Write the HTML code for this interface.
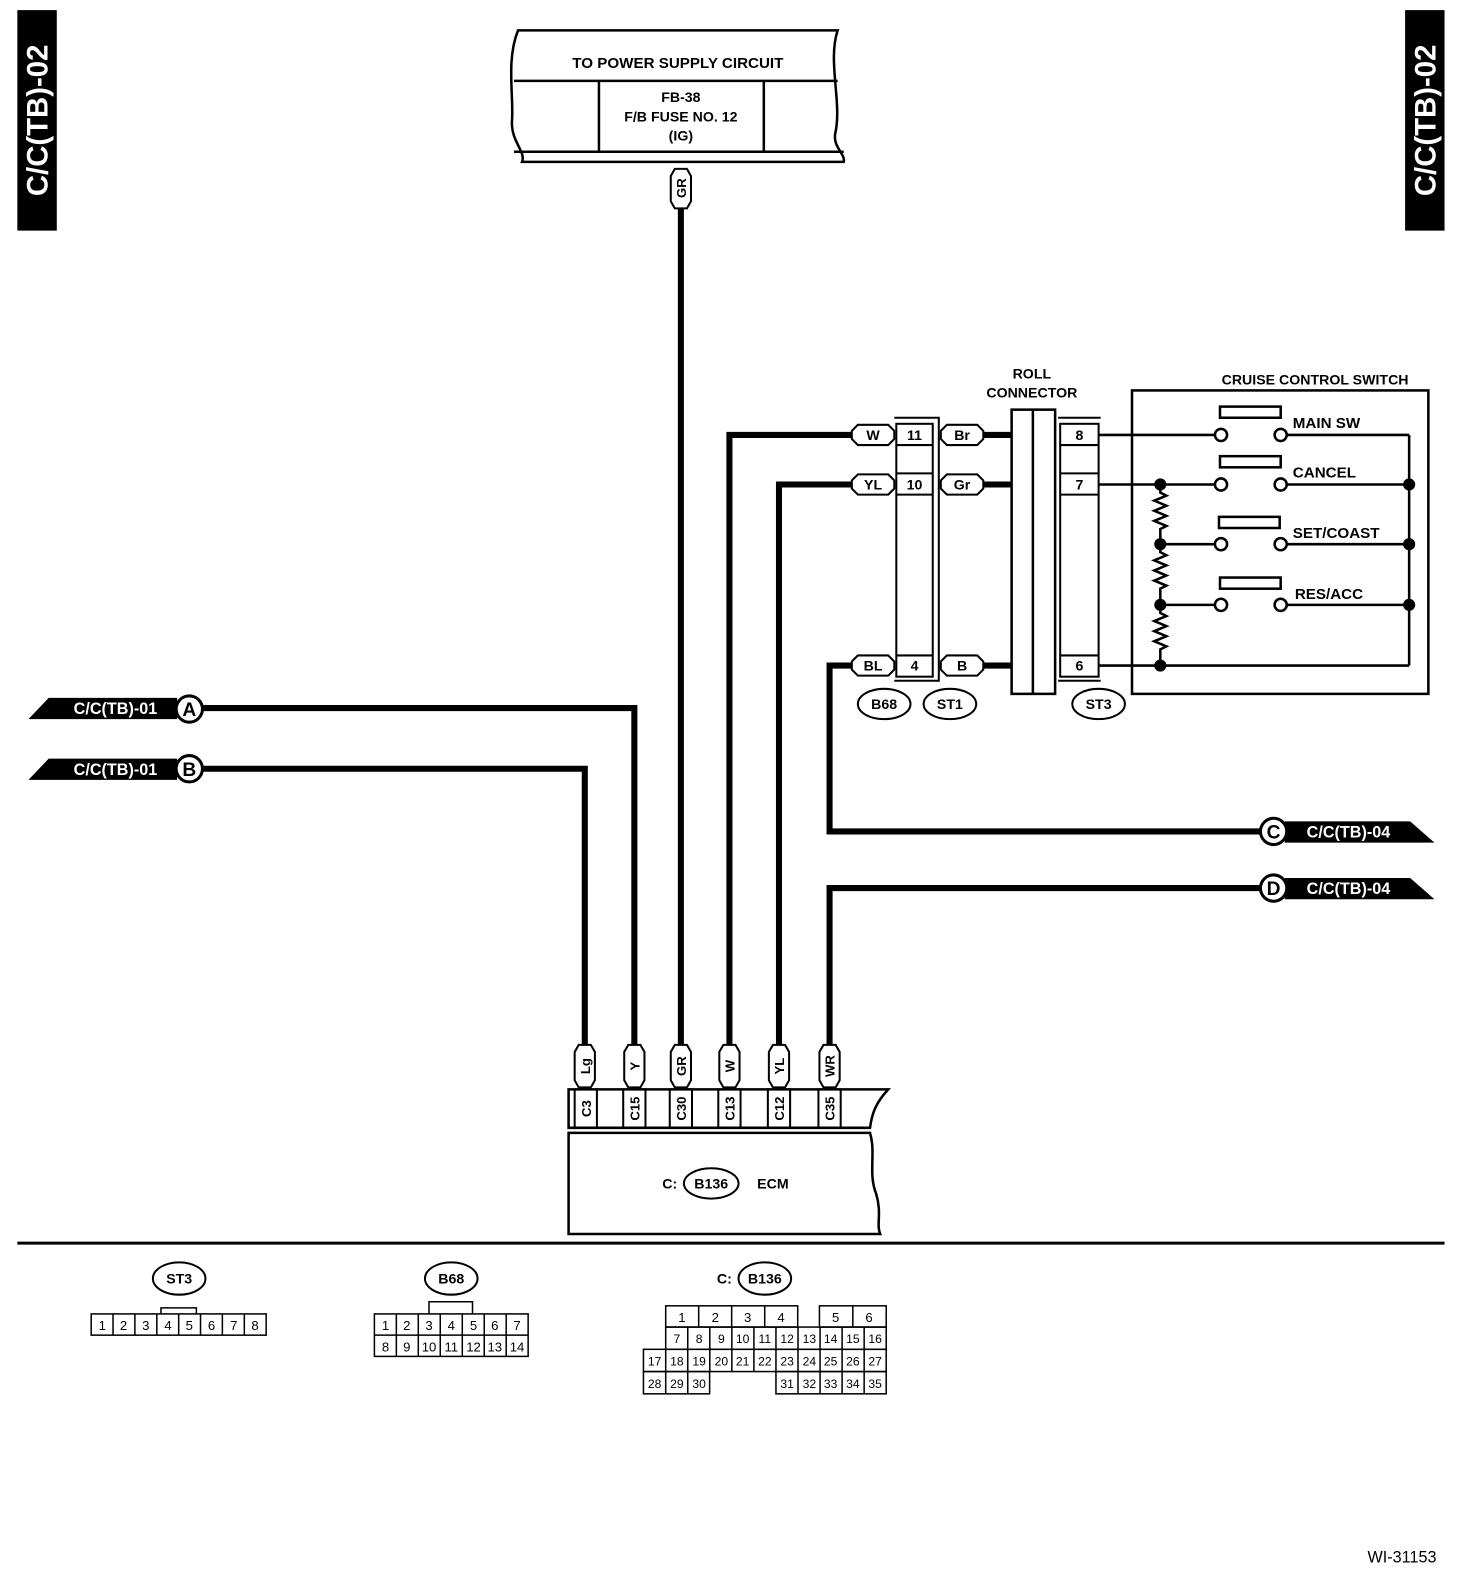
<!DOCTYPE html>
<html><head><meta charset="utf-8"><style>
html,body{margin:0;padding:0;background:#fff;}
svg{display:block;}
text{font-family:"Liberation Sans",sans-serif;font-weight:bold;fill:#000;}
</style></head><body>
<svg width="1472" height="1586" viewBox="0 0 1455 1568" xmlns="http://www.w3.org/2000/svg">
<rect width="1455" height="1568" fill="#fff"/>
<rect x="17" y="10" width="39" height="218" fill="#000"/>
<text transform="translate(47,119) rotate(-90)" text-anchor="middle" font-size="29" style="fill:#fff">C/C(TB)-02</text>
<rect x="1389" y="10" width="39" height="218" fill="#000"/>
<text transform="translate(1419,119) rotate(-90)" text-anchor="middle" font-size="29" style="fill:#fff">C/C(TB)-02</text>

<g fill="none" stroke="#000" stroke-width="2.5">
<path d="M512,30 H828 C818,60 832,100 826,130 C822,145 836,152 834,160 H516 C520,150 505,140 506,120 C508,95 500,60 512,30 Z"/>
<line x1="508" y1="80" x2="828" y2="80"/>
<line x1="508" y1="150" x2="834" y2="150"/>
<line x1="592" y1="80" x2="592" y2="150"/>
<line x1="755" y1="80" x2="755" y2="150"/>
</g>
<text x="670" y="67" text-anchor="middle" font-size="15">TO POWER SUPPLY CIRCUIT</text>
<text x="673" y="101" text-anchor="middle" font-size="14">FB-38</text>
<text x="673" y="120" text-anchor="middle" font-size="14">F/B FUSE NO. 12</text>
<text x="673" y="139" text-anchor="middle" font-size="14">(IG)</text>

<g fill="none" stroke="#000" stroke-width="6">
<line x1="673" y1="205" x2="673" y2="1035"/>
<polyline points="200,700 627,700 627,1035"/>
<polyline points="200,760 578,760 578,1035"/>
<polyline points="842,430 721,430 721,1035"/>
<polyline points="842,479 770,479 770,1035"/>
<polyline points="842,658 820,658 820,822 1250,822"/>
<polyline points="1250,878 820,878 820,1035"/>
<line x1="972" y1="430" x2="1000" y2="430"/>
<line x1="972" y1="479" x2="1000" y2="479"/>
<line x1="972" y1="658" x2="1000" y2="658"/>
</g>

<g fill="#fff" stroke="#000" stroke-width="2">
<path d="M663,174 L667,167 H679 L683,174 V199 L679,206 H667 L663,199 Z"/>
<path d="M568,1040 L572,1033 H584 L588,1040 V1068 L584,1075 H572 L568,1068 Z"/>
<path d="M617,1040 L621,1033 H633 L637,1040 V1068 L633,1075 H621 L617,1068 Z"/>
<path d="M663,1040 L667,1033 H679 L683,1040 V1068 L679,1075 H667 L663,1068 Z"/>
<path d="M711,1040 L715,1033 H727 L731,1040 V1068 L727,1075 H715 L711,1068 Z"/>
<path d="M760,1040 L764,1033 H776 L780,1040 V1068 L776,1075 H764 L760,1068 Z"/>
<path d="M810,1040 L814,1033 H826 L830,1040 V1068 L826,1075 H814 L810,1068 Z"/>
</g>
<g font-size="13">
<text transform="translate(678,186) rotate(-90)" text-anchor="middle">GR</text>
<text transform="translate(583,1054) rotate(-90)" text-anchor="middle">Lg</text>
<text transform="translate(632,1054) rotate(-90)" text-anchor="middle">Y</text>
<text transform="translate(678,1054) rotate(-90)" text-anchor="middle">GR</text>
<text transform="translate(726,1054) rotate(-90)" text-anchor="middle">W</text>
<text transform="translate(775,1054) rotate(-90)" text-anchor="middle">YL</text>
<text transform="translate(825,1054) rotate(-90)" text-anchor="middle">WR</text>
</g>

<g fill="none" stroke="#000" stroke-width="2.5">
<path d="M562,1077 H878 C866,1090 862,1100 860,1115 H562 Z"/>
<path d="M562,1120 H860 C866,1140 858,1160 866,1180 C872,1200 866,1210 870,1220 H562 Z"/>
</g>
<g fill="none" stroke="#000" stroke-width="2">
<rect x="568" y="1077" width="22" height="38"/>
<rect x="616" y="1077" width="22" height="38"/>
<rect x="662" y="1077" width="22" height="38"/>
<rect x="710" y="1077" width="22" height="38"/>
<rect x="759" y="1077" width="22" height="38"/>
<rect x="809" y="1077" width="22" height="38"/>
</g>
<g font-size="13">
<text transform="translate(584,1096) rotate(-90)" text-anchor="middle">C3</text>
<text transform="translate(632,1096) rotate(-90)" text-anchor="middle">C15</text>
<text transform="translate(678,1096) rotate(-90)" text-anchor="middle">C30</text>
<text transform="translate(726,1096) rotate(-90)" text-anchor="middle">C13</text>
<text transform="translate(775,1096) rotate(-90)" text-anchor="middle">C12</text>
<text transform="translate(825,1096) rotate(-90)" text-anchor="middle">C35</text>
</g>
<text x="662" y="1175" text-anchor="middle" font-size="14">C:</text>
<ellipse cx="703" cy="1170" rx="27" ry="15" fill="#fff" stroke="#000" stroke-width="2"/>
<text x="703" y="1175" text-anchor="middle" font-size="14">B136</text>
<text x="764" y="1175" text-anchor="middle" font-size="14">ECM</text>

<path d="M28,711 L48,690 H175 V711 Z" fill="#000"/>
<path d="M28,771 L48,750 H175 V771 Z" fill="#000"/>
<text x="114" y="706" text-anchor="middle" font-size="16" style="fill:#fff">C/C(TB)-01</text>
<text x="114" y="766" text-anchor="middle" font-size="16" style="fill:#fff">C/C(TB)-01</text>
<circle cx="187" cy="701" r="13" fill="#fff" stroke="#000" stroke-width="3"/>
<circle cx="187" cy="760" r="13" fill="#fff" stroke="#000" stroke-width="3"/>
<text x="187" y="708" text-anchor="middle" font-size="19">A</text>
<text x="187" y="767" text-anchor="middle" font-size="19">B</text>

<path d="M1270,812 H1394 L1418,833 H1270 Z" fill="#000"/>
<path d="M1270,868 H1394 L1418,889 H1270 Z" fill="#000"/>
<text x="1333" y="828" text-anchor="middle" font-size="16" style="fill:#fff">C/C(TB)-04</text>
<text x="1333" y="884" text-anchor="middle" font-size="16" style="fill:#fff">C/C(TB)-04</text>
<circle cx="1259" cy="822" r="13" fill="#fff" stroke="#000" stroke-width="3"/>
<circle cx="1259" cy="878" r="13" fill="#fff" stroke="#000" stroke-width="3"/>
<text x="1259" y="829" text-anchor="middle" font-size="19">C</text>
<text x="1259" y="885" text-anchor="middle" font-size="19">D</text>

<g fill="#fff" stroke="#000" stroke-width="2">
<path d="M842,426 L848,420 H878 L884,426 V434 L878,440 H848 L842,434 Z"/>
<path d="M930,426 L936,420 H966 L972,426 V434 L966,440 H936 L930,434 Z"/>
<path d="M842,475 L848,469 H878 L884,475 V483 L878,489 H848 L842,483 Z"/>
<path d="M930,475 L936,469 H966 L972,475 V483 L966,489 H936 L930,483 Z"/>
<path d="M842,654 L848,648 H878 L884,654 V662 L878,668 H848 L842,662 Z"/>
<path d="M930,654 L936,648 H966 L972,654 V662 L966,668 H936 L930,662 Z"/>
</g>
<g font-size="14" text-anchor="middle">
<text x="863" y="435">W</text><text x="951" y="435">Br</text>
<text x="863" y="484">YL</text><text x="951" y="484">Gr</text>
<text x="863" y="663">BL</text><text x="951" y="663">B</text>
</g>

<g fill="none" stroke="#000" stroke-width="2">
<rect x="886" y="419" width="36" height="250"/>
<line x1="886" y1="440" x2="922" y2="440"/>
<line x1="886" y1="468" x2="922" y2="468"/>
<line x1="886" y1="489" x2="922" y2="489"/>
<line x1="886" y1="648" x2="922" y2="648"/>
<polyline points="884,413 928,413 928,673 884,673"/>
<rect x="1000" y="405" width="43" height="281" stroke-width="2.5"/>
<line x1="1021" y1="405" x2="1021" y2="686" stroke-width="2.5"/>
<rect x="1048" y="419" width="38" height="250"/>
<line x1="1048" y1="440" x2="1086" y2="440"/>
<line x1="1048" y1="468" x2="1086" y2="468"/>
<line x1="1048" y1="489" x2="1086" y2="489"/>
<line x1="1048" y1="648" x2="1086" y2="648"/>
<line x1="1046" y1="413" x2="1088" y2="413"/>
<line x1="1046" y1="673" x2="1088" y2="673"/>
</g>
<g font-size="14" text-anchor="middle">
<text x="904" y="435">11</text><text x="904" y="484">10</text><text x="904" y="663">4</text>
<text x="1067" y="435">8</text><text x="1067" y="484">7</text><text x="1067" y="663">6</text>
<text x="1020" y="374">ROLL</text>
<text x="1020" y="393">CONNECTOR</text>
<text x="1300" y="380">CRUISE CONTROL SWITCH</text>
</g>
<g fill="#fff" stroke="#000" stroke-width="2">
<ellipse cx="874" cy="696" rx="26" ry="15"/>
<ellipse cx="939" cy="696" rx="26" ry="15"/>
<ellipse cx="1086" cy="696" rx="26" ry="15"/>
</g>
<g font-size="14" text-anchor="middle">
<text x="874" y="701">B68</text><text x="939" y="701">ST1</text><text x="1086" y="701">ST3</text>
</g>

<g fill="none" stroke="#000" stroke-width="2.5">
<rect x="1119" y="386" width="293" height="300"/>
<line x1="1086" y1="430" x2="1201" y2="430"/>
<line x1="1086" y1="479" x2="1201" y2="479"/>
<line x1="1147" y1="538" x2="1201" y2="538"/>
<line x1="1147" y1="598" x2="1201" y2="598"/>
<line x1="1086" y1="658" x2="1393" y2="658"/>
<line x1="1272" y1="430" x2="1393" y2="430"/>
<line x1="1272" y1="479" x2="1393" y2="479"/>
<line x1="1272" y1="538" x2="1393" y2="538"/>
<line x1="1272" y1="598" x2="1393" y2="598"/>
<line x1="1393" y1="430" x2="1393" y2="658"/>
<rect x="1206" y="402" width="60" height="11"/>
<rect x="1206" y="451" width="60" height="11"/>
<rect x="1205" y="511" width="60" height="11"/>
<rect x="1206" y="571" width="60" height="11"/>
<path d="M1147,479 v8 l6,3 l-12,5 l12,5 l-12,5 l12,5 l-12,5 l12,5 l-6,3 V538"/>
<path d="M1147,538 v8 l6,3 l-12,5 l12,5 l-12,5 l12,5 l-12,5 l12,5 l-6,3 V598"/>
<path d="M1147,598 v8 l6,3 l-12,5 l12,5 l-12,5 l12,5 l-12,5 l12,5 l-6,3 V658"/>
</g>
<g fill="#fff" stroke="#000" stroke-width="2.5">
<circle cx="1207" cy="430" r="6"/><circle cx="1266" cy="430" r="6"/>
<circle cx="1207" cy="479" r="6"/><circle cx="1266" cy="479" r="6"/>
<circle cx="1207" cy="538" r="6"/><circle cx="1266" cy="538" r="6"/>
<circle cx="1207" cy="598" r="6"/><circle cx="1266" cy="598" r="6"/>
</g>
<g fill="#000">
<circle cx="1147" cy="479" r="6"/><circle cx="1147" cy="538" r="6"/><circle cx="1147" cy="598" r="6"/><circle cx="1147" cy="658" r="6"/>
<circle cx="1393" cy="479" r="6"/><circle cx="1393" cy="538" r="6"/><circle cx="1393" cy="598" r="6"/>
</g>
<g font-size="15">
<text x="1278" y="423">MAIN SW</text>
<text x="1278" y="472">CANCEL</text>
<text x="1278" y="532">SET/COAST</text>
<text x="1280" y="592">RES/ACC</text>
</g>

<line x1="17" y1="1229" x2="1428" y2="1229" stroke="#000" stroke-width="3"/>

<g fill="#fff" stroke="#000" stroke-width="2">
<ellipse cx="177" cy="1264" rx="26" ry="16"/>
<ellipse cx="446" cy="1264" rx="26" ry="16"/>
<ellipse cx="756" cy="1264" rx="26" ry="16"/>
</g>
<g font-size="14" text-anchor="middle">
<text x="177" y="1269">ST3</text><text x="446" y="1269">B68</text><text x="756" y="1269">B136</text>
<text x="716" y="1269">C:</text>
</g>
<g fill="none" stroke="#000" stroke-width="1.5">
<rect x="90" y="1299" width="173" height="21"/>
<line x1="111.6" y1="1299" x2="111.6" y2="1320"/><line x1="133.2" y1="1299" x2="133.2" y2="1320"/>
<line x1="154.9" y1="1299" x2="154.9" y2="1320"/><line x1="176.5" y1="1299" x2="176.5" y2="1320"/>
<line x1="198.1" y1="1299" x2="198.1" y2="1320"/><line x1="219.7" y1="1299" x2="219.7" y2="1320"/>
<line x1="241.4" y1="1299" x2="241.4" y2="1320"/>
<polyline points="159,1299 159,1293 194,1293 194,1299"/>
<rect x="370" y="1299" width="152" height="42"/>
<line x1="370" y1="1320" x2="522" y2="1320"/>
<line x1="391.7" y1="1299" x2="391.7" y2="1341"/><line x1="413.4" y1="1299" x2="413.4" y2="1341"/>
<line x1="435.1" y1="1299" x2="435.1" y2="1341"/><line x1="456.9" y1="1299" x2="456.9" y2="1341"/>
<line x1="478.6" y1="1299" x2="478.6" y2="1341"/><line x1="500.3" y1="1299" x2="500.3" y2="1341"/>
<polyline points="424,1299 424,1287 467,1287 467,1299"/>
<rect x="658" y="1291" width="130.5" height="21"/>
<line x1="690.6" y1="1291" x2="690.6" y2="1312"/><line x1="723.2" y1="1291" x2="723.2" y2="1312"/><line x1="755.9" y1="1291" x2="755.9" y2="1312"/>
<rect x="810" y="1291" width="66" height="21"/>
<line x1="843" y1="1291" x2="843" y2="1312"/>
<rect x="658" y="1312" width="218" height="22"/>
<rect x="636" y="1334" width="240" height="22"/>
<rect x="636" y="1356" width="65.4" height="22"/>
<rect x="767" y="1356" width="109" height="22"/>
<line x1="679.8" y1="1312" x2="679.8" y2="1378"/><line x1="701.6" y1="1312" x2="701.6" y2="1356"/>
<line x1="723.4" y1="1312" x2="723.4" y2="1356"/><line x1="745.2" y1="1312" x2="745.2" y2="1356"/>
<line x1="767" y1="1312" x2="767" y2="1356"/><line x1="788.8" y1="1312" x2="788.8" y2="1378"/>
<line x1="810.6" y1="1312" x2="810.6" y2="1378"/><line x1="832.4" y1="1312" x2="832.4" y2="1378"/>
<line x1="854.2" y1="1312" x2="854.2" y2="1378"/>
<line x1="658" y1="1334" x2="658" y2="1378"/>
</g>
<g font-size="13" text-anchor="middle" style="font-weight:normal">
<text x="101" y="1315" style="font-weight:normal">1</text><text x="122" y="1315" style="font-weight:normal">2</text><text x="144" y="1315" style="font-weight:normal">3</text><text x="166" y="1315" style="font-weight:normal">4</text><text x="187" y="1315" style="font-weight:normal">5</text><text x="209" y="1315" style="font-weight:normal">6</text><text x="231" y="1315" style="font-weight:normal">7</text><text x="252" y="1315" style="font-weight:normal">8</text>
<text x="381" y="1315" style="font-weight:normal">1</text><text x="402" y="1315" style="font-weight:normal">2</text><text x="424" y="1315" style="font-weight:normal">3</text><text x="446" y="1315" style="font-weight:normal">4</text><text x="468" y="1315" style="font-weight:normal">5</text><text x="489" y="1315" style="font-weight:normal">6</text><text x="511" y="1315" style="font-weight:normal">7</text>
<text x="381" y="1336" style="font-weight:normal">8</text><text x="402" y="1336" style="font-weight:normal">9</text><text x="424" y="1336" style="font-weight:normal">10</text><text x="446" y="1336" style="font-weight:normal">11</text><text x="468" y="1336" style="font-weight:normal">12</text><text x="489" y="1336" style="font-weight:normal">13</text><text x="511" y="1336" style="font-weight:normal">14</text>
<text x="674" y="1307" style="font-weight:normal">1</text><text x="707" y="1307" style="font-weight:normal">2</text><text x="739" y="1307" style="font-weight:normal">3</text><text x="772" y="1307" style="font-weight:normal">4</text><text x="826" y="1307" style="font-weight:normal">5</text><text x="859" y="1307" style="font-weight:normal">6</text>
</g>
<g font-size="12" text-anchor="middle">
<text x="669" y="1328" style="font-weight:normal">7</text><text x="691" y="1328" style="font-weight:normal">8</text><text x="713" y="1328" style="font-weight:normal">9</text><text x="734" y="1328" style="font-weight:normal">10</text><text x="756" y="1328" style="font-weight:normal">11</text><text x="778" y="1328" style="font-weight:normal">12</text><text x="800" y="1328" style="font-weight:normal">13</text><text x="821" y="1328" style="font-weight:normal">14</text><text x="843" y="1328" style="font-weight:normal">15</text><text x="865" y="1328" style="font-weight:normal">16</text>
<text x="647" y="1350" style="font-weight:normal">17</text><text x="669" y="1350" style="font-weight:normal">18</text><text x="691" y="1350" style="font-weight:normal">19</text><text x="713" y="1350" style="font-weight:normal">20</text><text x="734" y="1350" style="font-weight:normal">21</text><text x="756" y="1350" style="font-weight:normal">22</text><text x="778" y="1350" style="font-weight:normal">23</text><text x="800" y="1350" style="font-weight:normal">24</text><text x="821" y="1350" style="font-weight:normal">25</text><text x="843" y="1350" style="font-weight:normal">26</text><text x="865" y="1350" style="font-weight:normal">27</text>
<text x="647" y="1372" style="font-weight:normal">28</text><text x="669" y="1372" style="font-weight:normal">29</text><text x="691" y="1372" style="font-weight:normal">30</text><text x="778" y="1372" style="font-weight:normal">31</text><text x="800" y="1372" style="font-weight:normal">32</text><text x="821" y="1372" style="font-weight:normal">33</text><text x="843" y="1372" style="font-weight:normal">34</text><text x="865" y="1372" style="font-weight:normal">35</text>
</g>

<text x="1420" y="1545" text-anchor="end" font-size="16" style="font-weight:normal">WI-31153</text>
</svg>
</body></html>
